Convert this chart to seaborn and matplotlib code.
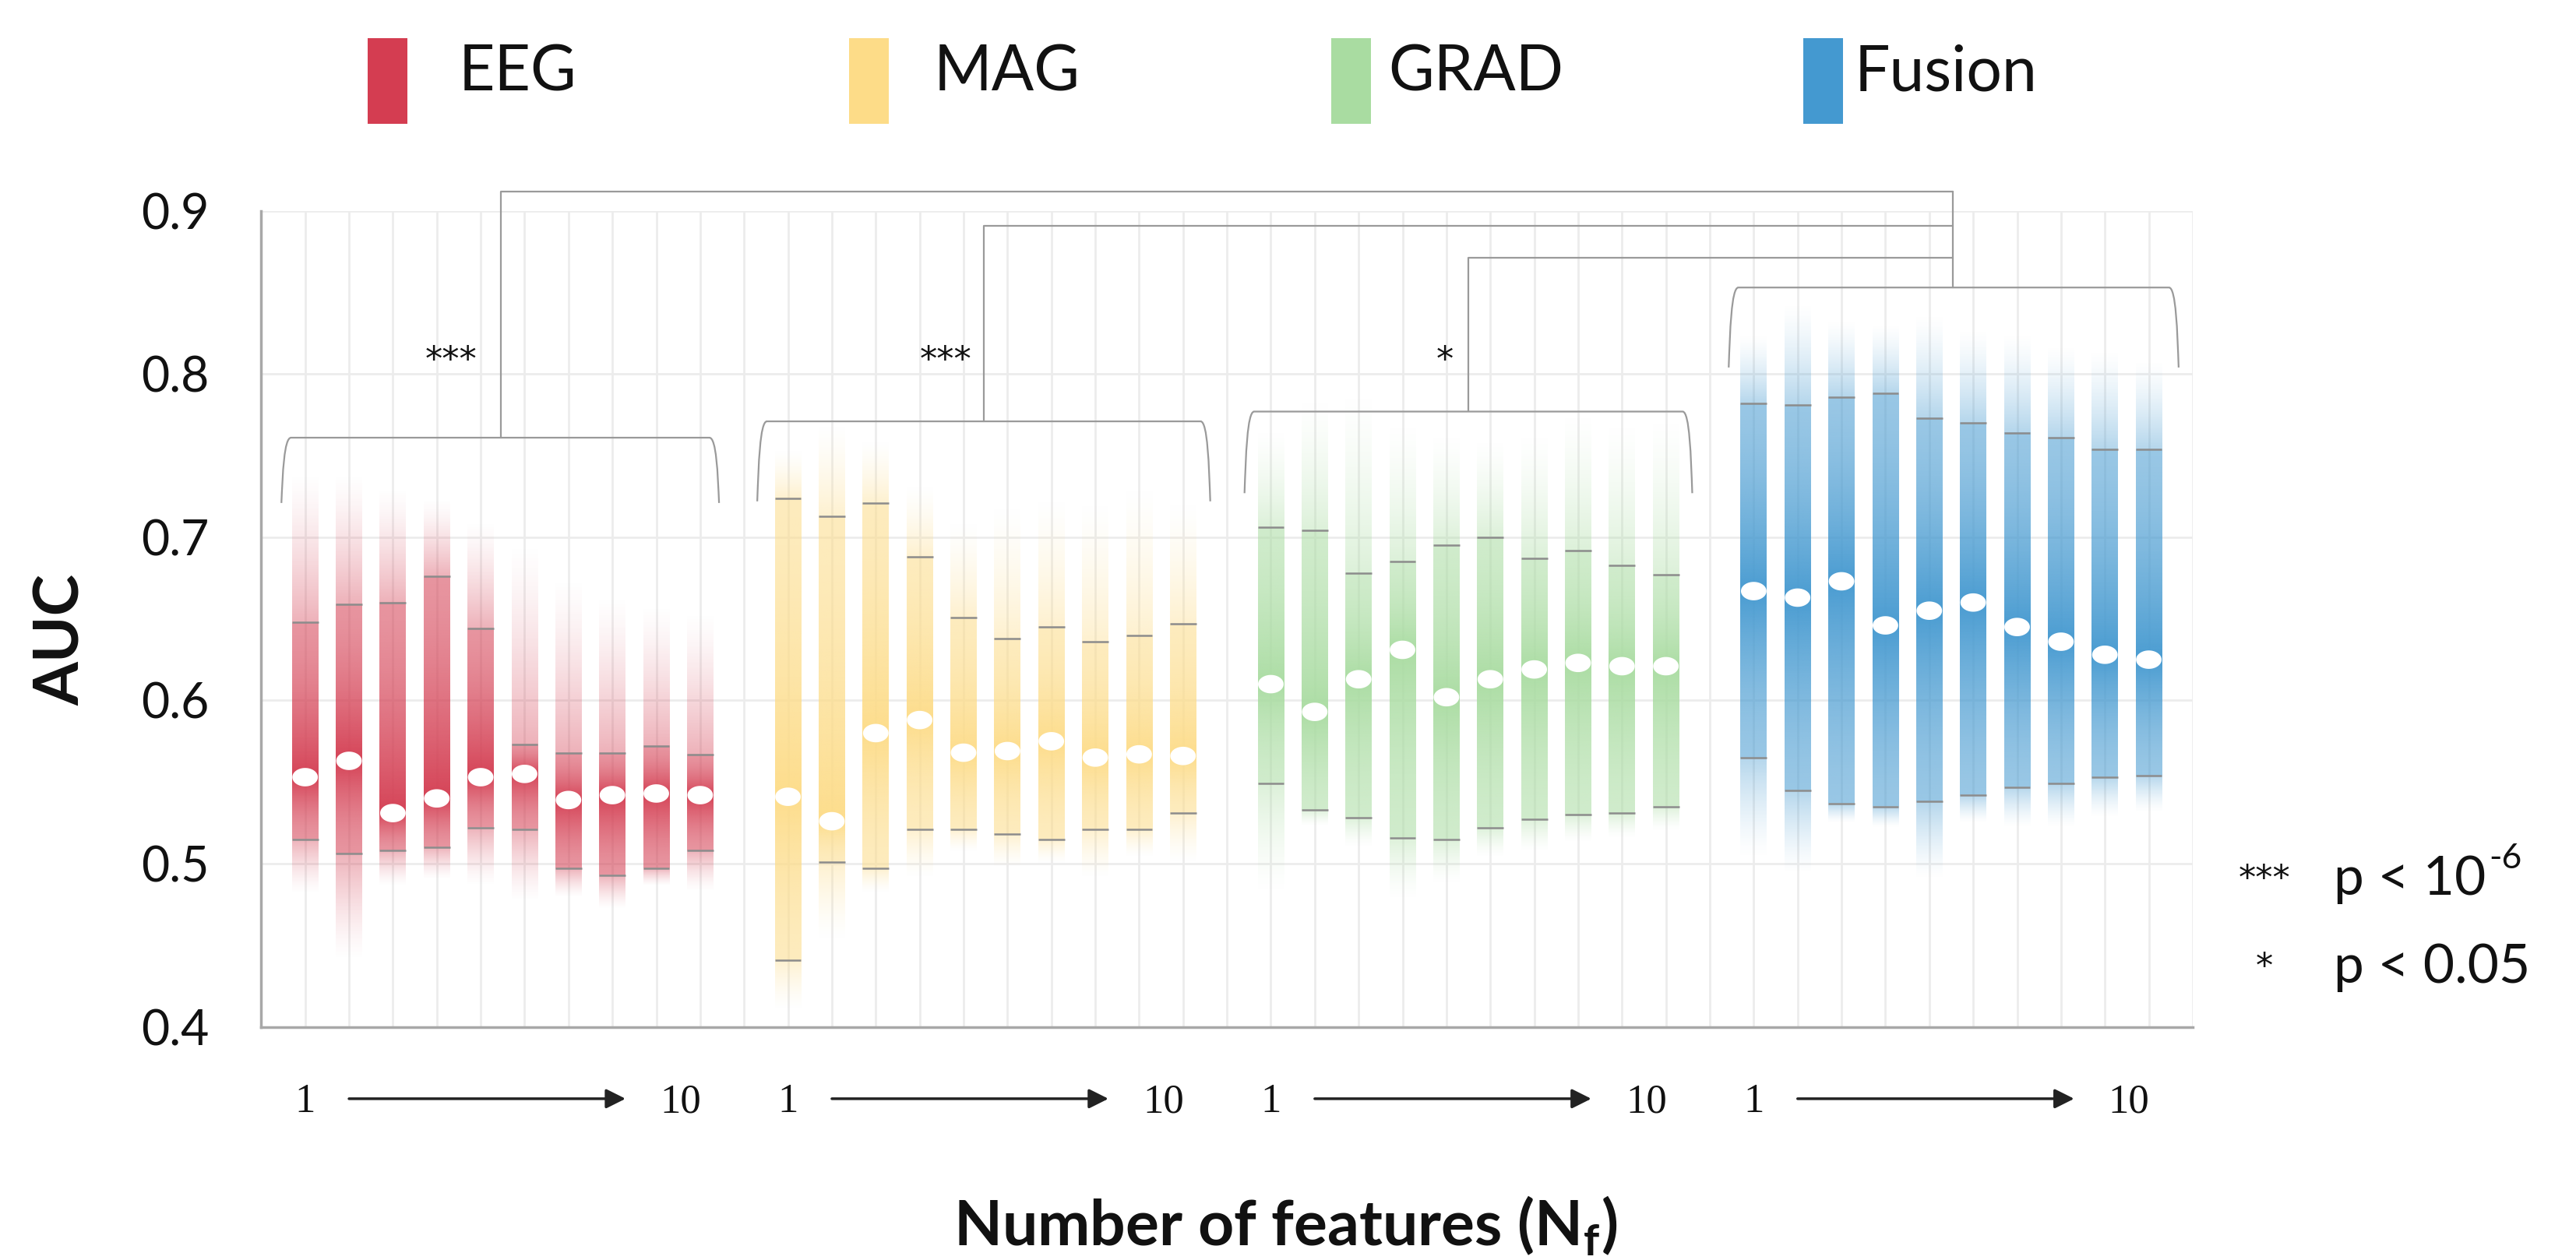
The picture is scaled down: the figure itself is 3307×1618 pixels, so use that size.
import numpy as np
import pandas as pd
import matplotlib
matplotlib.use("Agg")
import matplotlib.pyplot as plt
from matplotlib.path import Path
from matplotlib.patches import PathPatch, Rectangle
from matplotlib.colors import to_rgb
import seaborn as sns

# ---------------- data ----------------
modalities = ["EEG", "MAG", "GRAD", "Fusion"]
colors = ["#d43d51", "#fddc88", "#a9dca1", "#4499d0"]
n_features = list(range(1, 11))

eeg_mean = [0.553, 0.563, 0.531, 0.540, 0.553, 0.555, 0.539, 0.542, 0.543, 0.542]
eeg_qhi = [0.648, 0.659, 0.660, 0.676, 0.644, 0.573, 0.568, 0.568, 0.572, 0.567]
eeg_qlo = [0.515, 0.506, 0.508, 0.510, 0.522, 0.521, 0.497, 0.493, 0.497, 0.508]
eeg_max = [0.741, 0.740, 0.731, 0.724, 0.710, 0.697, 0.676, 0.665, 0.659, 0.655]
eeg_min = [0.481, 0.440, 0.486, 0.490, 0.486, 0.476, 0.479, 0.472, 0.486, 0.483]

mag_mean = [0.541, 0.526, 0.580, 0.588, 0.568, 0.569, 0.575, 0.565, 0.567, 0.566]
mag_qhi = [0.724, 0.713, 0.721, 0.688, 0.651, 0.638, 0.645, 0.636, 0.640, 0.647]
mag_qlo = [0.441, 0.501, 0.497, 0.521, 0.521, 0.518, 0.515, 0.521, 0.521, 0.531]
mag_max = [0.754, 0.770, 0.760, 0.732, 0.710, 0.720, 0.725, 0.722, 0.732, 0.722]
mag_min = [0.410, 0.453, 0.482, 0.491, 0.507, 0.497, 0.500, 0.491, 0.504, 0.500]

grad_mean = [0.610, 0.593, 0.613, 0.631, 0.602, 0.613, 0.619, 0.623, 0.621, 0.621]
grad_qhi = [0.706, 0.704, 0.678, 0.685, 0.695, 0.700, 0.687, 0.692, 0.683, 0.677]
grad_qlo = [0.549, 0.533, 0.528, 0.516, 0.515, 0.522, 0.527, 0.530, 0.531, 0.535]
grad_max = [0.766, 0.785, 0.789, 0.770, 0.763, 0.760, 0.763, 0.776, 0.770, 0.773]
grad_min = [0.482, 0.523, 0.510, 0.478, 0.488, 0.504, 0.507, 0.513, 0.516, 0.520]

fus_mean = [0.667, 0.663, 0.673, 0.646, 0.655, 0.660, 0.645, 0.636, 0.628, 0.625]
fus_qhi = [0.782, 0.781, 0.786, 0.788, 0.773, 0.770, 0.764, 0.761, 0.754, 0.754]
fus_qlo = [0.565, 0.545, 0.537, 0.535, 0.538, 0.542, 0.547, 0.549, 0.553, 0.554]
fus_max = [0.825, 0.844, 0.834, 0.831, 0.837, 0.828, 0.825, 0.818, 0.815, 0.809]
fus_min = [0.503, 0.493, 0.525, 0.522, 0.490, 0.525, 0.522, 0.522, 0.528, 0.531]

y_ticks = [0.4, 0.5, 0.6, 0.7, 0.8, 0.9]
y_ticklabels = ["0.4", "0.5", "0.6", "0.7", "0.8", "0.9"]
stars = ["***", "***", "*"]
p_legend = [("***", "p < 10", "-6"), ("*", "p < 0.05", "")]

groups = [
    (eeg_mean, eeg_qlo, eeg_qhi, eeg_min, eeg_max),
    (mag_mean, mag_qlo, mag_qhi, mag_min, mag_max),
    (grad_mean, grad_qlo, grad_qhi, grad_min, grad_max),
    (fus_mean, fus_qlo, fus_qhi, fus_min, fus_max),
]

# ---------------- style ----------------
sns.set_theme(style="white")
plt.rcParams["font.family"] = ["Lato", "DejaVu Sans"]
plt.rcParams["mathtext.fontset"] = "custom"
plt.rcParams["mathtext.rm"] = "Lato"
plt.rcParams["mathtext.bf"] = "Lato:bold"

fig = plt.figure(figsize=(33.07, 16.18), dpi=100)
ax = fig.add_axes([0.1014, 0.185, 0.7498, 0.6477])

GAP = 11
BW = 0.3  # half bar width
TXT = "#111111"


def alpha_profile(ys, lo, qlo, m, qhi, hi, edge=0.40, inner=0.55, peak=0.97):
    a = np.zeros_like(ys)
    s = ys < qlo
    a[s] = edge * np.clip((ys[s] - lo) / (qlo - lo), 0, 1) ** 1.4
    s = (ys >= qlo) & (ys < m)
    a[s] = inner + (peak - inner) * ((ys[s] - qlo) / (m - qlo)) ** 1.5
    s = (ys >= m) & (ys < qhi)
    a[s] = inner + (peak - inner) * ((qhi - ys[s]) / (qhi - m)) ** 1.5
    s = ys >= qhi
    a[s] = edge * np.clip((hi - ys[s]) / (hi - qhi), 0, 1) ** 1.4
    return a


rows = []
for gi, (mod, col, (mean, qlo, qhi, mn, mx)) in enumerate(zip(modalities, colors, groups)):
    rgb = to_rgb(col)
    for j, nf in enumerate(n_features):
        x = gi * GAP + nf
        ys = np.linspace(mn[j], mx[j], 700)
        a = alpha_profile(ys, mn[j], qlo[j], mean[j], qhi[j], mx[j])
        img = np.zeros((len(ys), 1, 4))
        img[:, 0, 0], img[:, 0, 1], img[:, 0, 2] = rgb
        img[:, 0, 3] = a
        ax.imshow(img, extent=[x - BW, x + BW, mn[j], mx[j]], origin="lower",
                  aspect="auto", interpolation="bilinear", zorder=2)
        rows.append(dict(x=x, mean=mean[j], qlo=qlo[j], qhi=qhi[j], modality=mod))

df = pd.DataFrame(rows)

# quantile lines
ax.hlines(df["qhi"], df["x"] - BW, df["x"] + BW, color="#8c8c8c", lw=1.8, zorder=3)
ax.hlines(df["qlo"], df["x"] - BW, df["x"] + BW, color="#8c8c8c", lw=1.8, zorder=3)

# mean dots (white ellipses)
t = np.linspace(0, 2 * np.pi, 60)
ell = Path(np.column_stack([np.cos(t), 0.72 * np.sin(t)]), closed=True)
sns.scatterplot(data=df, x="x", y="mean", marker=ell, s=560, color="white",
                edgecolor="none", linewidth=0, zorder=5, ax=ax, legend=False)

# axes
ax.set_xlim(0, 4 * GAP)
ax.set_ylim(0.4, 0.9)
ax.set_xticks(range(0, 4 * GAP + 1))
ax.set_xticklabels([])
ax.set_yticks(y_ticks)
ax.set_yticklabels(y_ticklabels, fontsize=45, color=TXT)
ax.tick_params(axis="y", direction="in", length=16, width=2, color="#a0a0a0", pad=48)
ax.tick_params(axis="x", direction="in", length=16, width=1.6, color="#a0a0a0")
ax.grid(True, color="#ececec", lw=2)
ax.set_axisbelow(True)
for s in ["top", "right"]:
    ax.spines[s].set_visible(False)
for s in ["left", "bottom"]:
    ax.spines[s].set_color("#a8a8a8")
    ax.spines[s].set_linewidth(2.5)
ax.set_xlabel("")
ax.set_ylabel("")

# brackets
LC = "#9a9a9a"
LW = 1.6


def bracket(xl, xr, ytop, ybot):
    dy = ytop - ybot
    verts = [(xl, ybot), (xl + 0.03, ytop - 0.55 * dy), (xl + 0.06, ytop), (xl + 0.22, ytop),
             (xr - 0.22, ytop),
             (xr - 0.06, ytop), (xr - 0.03, ytop - 0.55 * dy), (xr, ybot)]
    codes = [Path.MOVETO, Path.CURVE4, Path.CURVE4, Path.CURVE4, Path.LINETO,
             Path.CURVE4, Path.CURVE4, Path.CURVE4]
    ax.add_patch(PathPatch(Path(verts, codes), fill=False, ec=LC, lw=LW, clip_on=False, zorder=4))


br_x = [(0.46, 10.43), (11.3, 21.62), (22.4, 32.6), (33.43, 43.68)]
br_top = [0.761, 0.771, 0.777, 0.853]
br_bot = [0.721, 0.722, 0.727, 0.804]
for (xl, xr), yt, yb in zip(br_x, br_top, br_bot):
    bracket(xl, xr, yt, yb)

conn_x = [5.46, 16.46, 27.5]
conn_y = [0.912, 0.891, 0.871]
fus_cx = 38.54
for cx, cy, yt in zip(conn_x, conn_y, br_top[:3]):
    ax.plot([cx, cx, fus_cx], [yt, cy, cy], color=LC, lw=LW, clip_on=False, zorder=4)
ax.plot([fus_cx, fus_cx], [conn_y[0], br_top[3]], color=LC, lw=LW, clip_on=False, zorder=4)

star_x = [4.33, 15.6, 26.97]
for sx, st in zip(star_x, stars):
    ax.text(sx, 0.808, st, fontsize=32, ha="center", va="center",
            family="DejaVu Sans", color=TXT)

# 1 -> 10 annotations under each group
for gi in range(4):
    g = gi * GAP
    ax.text(g + 1.0, 0.354, "1", fontsize=38, ha="center", va="center",
            family="Liberation Serif", color=TXT)
    ax.text(g + 9.55, 0.354, "10", fontsize=38, ha="center", va="center",
            family="Liberation Serif", color=TXT)
    ax.annotate("", xy=(g + 8.3, 0.356), xytext=(g + 2.0, 0.356),
                arrowprops=dict(arrowstyle="-|>", color="#222", lw=2.5,
                                mutation_scale=38, shrinkA=0, shrinkB=0),
                annotation_clip=False)

# axis labels
fig.text(0.024, 0.492, "AUC", rotation=90, fontsize=58, fontweight="bold",
         ha="center", va="center", color=TXT)
fig.text(0.499, 0.027, r"Number of features (N$_{\mathbf{f}}$)", fontsize=58,
         fontweight="bold", ha="center", va="center", color=TXT)

# top legend
leg_bar_x = [0.1428, 0.3296, 0.5168, 0.7000]
leg_txt_x = [0.1781, 0.3626, 0.5389, 0.7200]
for lx, tx, col, mod in zip(leg_bar_x, leg_txt_x, colors, modalities):
    fig.patches.append(Rectangle((lx, 0.902), 0.0155, 0.068, transform=fig.transFigure,
                                 color=col, lw=0))
    fig.text(tx, 0.9425, mod, fontsize=58, ha="left", va="center", color=TXT)

# p-value legend
py = [0.302, 0.232]
for (st, txt, sup), yy in zip(p_legend, py):
    fig.text(0.879, yy, st, fontsize=32, ha="center", va="center",
             family="DejaVu Sans", color=TXT)
    tt = fig.text(0.906, yy, txt, fontsize=50, ha="left", va="center", color=TXT)
    if sup:
        ax.annotate(sup, xy=(1.0, 0.92), xycoords=tt, xytext=(3, 0),
                    textcoords="offset points", fontsize=32,
                    ha="left", va="center", color=TXT, annotation_clip=False)

fig.savefig("out.png", dpi=100, facecolor="white")
